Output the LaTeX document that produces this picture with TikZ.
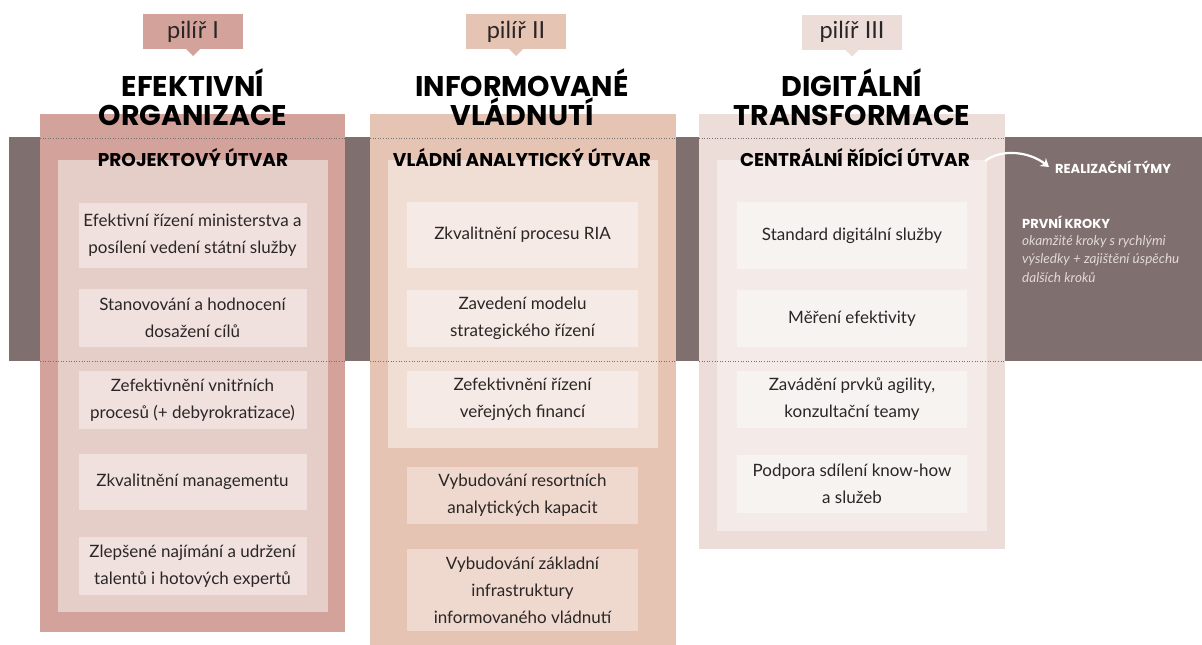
\documentclass[tikz,border=0pt]{standalone}
\usepackage{fontspec}
\setmainfont{Lato}
\newfontfamily\titlef{Poppins}
\newfontfamily\bodyf{Lato}
\usetikzlibrary{calc,arrows.meta}
\definecolor{bandc}{HTML}{7F6F6E}
\definecolor{oa}{HTML}{D3A29A}
\definecolor{ia}{HTML}{E6CEC8}
\definecolor{ta}{HTML}{F0E1DF}
\definecolor{ob}{HTML}{E6C4B4}
\definecolor{ib}{HTML}{F0DDD4}
\definecolor{tb}{HTML}{F5EAE5}
\definecolor{ub}{HTML}{EFD8CE}
\definecolor{oc}{HTML}{ECDDD8}
\definecolor{ic}{HTML}{F4EAE7}
\definecolor{tc}{HTML}{F7F3F1}
\definecolor{txt}{HTML}{2B2626}
\definecolor{lighttxt}{HTML}{E2D9D8}
\begin{document}
\begin{tikzpicture}[x=1pt,y=-1pt,
  panel/.style={inner sep=0pt, outer sep=0pt},
  item/.style={inner sep=0pt, outer sep=0pt, minimum width=228, align=center, text=txt,
     font=\bodyf\fontsize{17}{27}\selectfont},
  tag/.style={inner sep=0pt, outer sep=0pt, minimum width=100, minimum height=35, text=txt,
     font=\bodyf\fontsize{23.5}{26}\selectfont},
  pillar/.style={align=center, font=\titlef\bfseries\fontsize{28.5}{29}\selectfont, text=black},
  unit/.style={font=\titlef\bfseries\fontsize{18.5}{20}\selectfont, text=black},
  dotline/.style={draw=black!55, line width=0.6pt, dotted}
]
\useasboundingbox (0,0) rectangle (1202,645);
% band
\fill[bandc] (9,137) rectangle (1202,361);
% columns
\node[panel, fill=oa, minimum width=305, minimum height=518, anchor=north west] (c1) at (40,114) {};
\node[panel, fill=ia, minimum width=270, minimum height=452, anchor=north west] (i1) at (58,160) {};
\node[panel, fill=ob, minimum width=306, minimum height=531, anchor=north west] (c2) at (370,114) {};
\node[panel, fill=ib, minimum width=270, minimum height=288, anchor=north west] (i2) at (388,160) {};
\node[panel, fill=oc, minimum width=306, minimum height=435, anchor=north west] (c3) at (699,114) {};
\node[panel, fill=ic, minimum width=270, minimum height=371, anchor=north west] (i3) at (717,160) {};
% dotted lines
\foreach \c in {c1,c2,c3}{
  \draw[dotline] (\c.west |- 0,138) -- (\c.east |- 0,138);
  \draw[dotline] (\c.west |- 0,361) -- (\c.east |- 0,361);
}
% tags
\node[tag, fill=oa] (p1) at (193,31.5) {pilíř I};
\node[tag, fill=ob] (p2) at (516,31.5) {pilíř II};
\node[tag, fill=oc] (p3) at (852,32) {pilíř III};
\fill[oa] ($(p1.south)+(-7,0)$) -- ($(p1.south)+(0,7)$) -- ($(p1.south)+(7,0)$) -- cycle;
\fill[ob] ($(p2.south)+(-7,0)$) -- ($(p2.south)+(0,7)$) -- ($(p2.south)+(7,0)$) -- cycle;
\fill[oc] ($(p3.south)+(-7,0)$) -- ($(p3.south)+(0,7)$) -- ($(p3.south)+(7,0)$) -- cycle;
% pillar titles
\node[pillar] (h1) at (193,97) {EFEKTIVNÍ\\ORGANIZACE};
\node[pillar] (h2) at (522,97) {INFORMOVANÉ\\VLÁDNUTÍ};
\node[pillar] (h3) at (852,97) {DIGITÁLNÍ\\TRANSFORMACE};
% unit titles
\node[unit] (u1) at (193,157.5) {PROJEKTOVÝ ÚTVAR};
\node[unit] (u2) at (522,157.5) {VLÁDNÍ ANALYTICKÝ ÚTVAR};
\node[unit] (u3) at (855,157.5) {CENTRÁLNÍ ŘÍDÍCÍ ÚTVAR};
% column 1 items
\node[item, fill=ta, minimum height=65] (a1) at (192.5,235.5) {Efektivní řízení ministerstva a\\posílení vedení státní služby};
\node[item, fill=ta, minimum height=58] (a2) at (192.5,318) {Stanovování a hodnocení\\dosažení cílů};
\node[item, fill=ta, minimum height=58] (a3) at (192.5,400) {Zefektivnění vnitřních\\procesů (+ debyrokratizace)};
\node[item, fill=ta, minimum height=56] (a4) at (192.5,482) {Zkvalitnění managementu};
\node[item, fill=ta, minimum height=58] (a5) at (192.5,566) {Zlepšené najímání a udržení\\talentů i hotových expertů};
% column 2 items
\node[item, fill=tb, minimum height=66, minimum width=231] (b1) at (522.5,235) {Zkvalitnění procesu RIA};
\node[item, fill=tb, minimum height=57, minimum width=231] (b2) at (522.5,318.5) {Zavedení modelu\\strategického řízení};
\node[item, fill=tb, minimum height=57, minimum width=231] (b3) at (522.5,399.5) {Zefektivnění řízení\\veřejných financí};
\node[item, fill=ub, minimum height=57, minimum width=231] (b4) at (522.5,495.5) {Vybudování resortních\\analytických kapacit};
\node[item, fill=ub, minimum height=82, minimum width=231] (b5) at (522.5,590) {Vybudování základní\\infrastruktury\\informovaného vládnutí};
% column 3 items
\node[item, fill=tc, minimum height=67, minimum width=230] (d1) at (852,235.5) {Standard digitální služby};
\node[item, fill=tc, minimum height=57, minimum width=230] (d2) at (852,318.5) {Měření efektivity};
\node[item, fill=tc, minimum height=57, minimum width=230] (d3) at (852,399.5) {Zavádění prvků agility,\\konzultační teamy};
\node[item, fill=tc, minimum height=58, minimum width=230] (d4) at (852,484) {Podpora sdílení know-how\\a služeb};
% right side
\node[anchor=west, inner sep=0pt, text=white, font=\titlef\bfseries\fontsize{13}{15}\selectfont] (rt) at (1055,167) {REALIZAČNÍ TÝMY};
\coordinate (as) at (985,161);
\draw[white, line width=2.2pt, -{Stealth[length=8pt,width=10pt]}] (as) .. controls (1002,148) and (1030,152) .. ($(rt.west)+(-6,0)$);
\node[anchor=west, inner sep=0pt, align=left, text=white, font=\titlef\bfseries\fontsize{13}{15}\selectfont] (pk) at (1022,222) {PRVNÍ KROKY};
\node[anchor=north west, inner sep=0pt, align=left, text=lighttxt, font=\bodyf\itshape\fontsize{13.5}{18.5}\selectfont] (pkt) at (1022,235) {okamžité kroky s rychlými\\výsledky + zajištění úspěchu\\dalších kroků};
\end{tikzpicture}
\end{document}
